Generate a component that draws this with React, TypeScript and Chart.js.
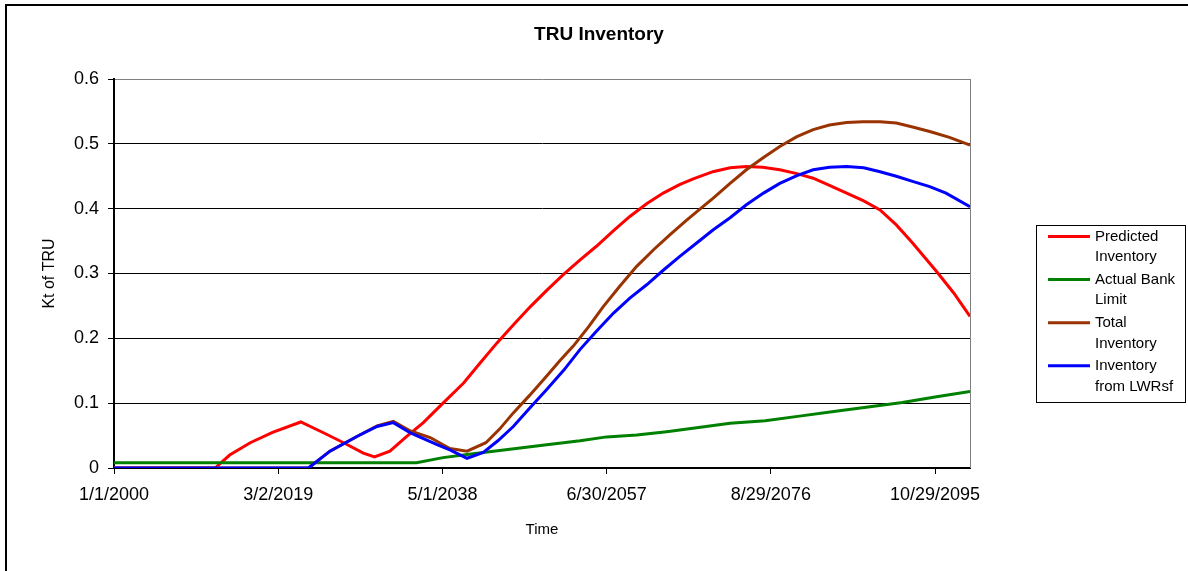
import React, { useEffect, useRef } from 'react';
import { Chart, registerables } from 'chart.js';

Chart.register(...registerables);

const FONT = "'Liberation Sans', Arial, Helvetica, sans-serif";

const chartTitle = 'TRU Inventory';
const xAxisTitle = 'Time';
const yAxisTitle = 'Kt of TRU';

const xTickLabels = ['1/1/2000', '3/2/2019', '5/1/2038', '6/30/2057', '8/29/2076', '10/29/2095'];
const xTickStepDays = 7000;
const startYear = 2000;
const daysPerYear = 365.25;
const yMax = 0.6;
const yStep = 0.1;

const seriesLabels = [
  ['Predicted', 'Inventory'],
  ['Actual Bank', 'Limit'],
  ['Total', 'Inventory'],
  ['Inventory', 'from LWRsf'],
];
const seriesColors = ['#FF0000', '#008000', '#993300', '#0000FF'];

const predictedYears = [2000, 2011.8, 2013.5, 2015.9, 2018.5, 2021.8, 2024.5, 2026.8, 2029.1, 2030.4, 2032.2, 2034.2, 2036.1, 2038.4, 2040.8, 2042.8, 2044.7, 2046.7, 2048.6, 2050.5, 2052.4, 2054.4, 2056.3, 2058.3, 2060.2, 2062.2, 2064.1, 2066.0, 2067.6, 2069.9, 2071.9, 2073.8, 2075.7, 2077.7, 2079.7, 2081.6, 2083.5, 2085.5, 2087.5, 2089.4, 2091.3, 2093.2, 2094.6, 2096.0, 2098.0, 2099.9];
const predictedValues = [0, 0, 0.020, 0.039, 0.055, 0.071, 0.054, 0.039, 0.023, 0.017, 0.026, 0.049, 0.070, 0.100, 0.131, 0.163, 0.193, 0.222, 0.249, 0.274, 0.298, 0.321, 0.342, 0.366, 0.388, 0.408, 0.424, 0.437, 0.446, 0.457, 0.463, 0.465, 0.464, 0.460, 0.454, 0.447, 0.436, 0.424, 0.412, 0.398, 0.375, 0.347, 0.325, 0.303, 0.270, 0.234];

const bankYears = [2000, 2035.3, 2038.4, 2041.9, 2046.2, 2050.5, 2054.4, 2057.5, 2061.0, 2064.5, 2068.0, 2071.9, 2076.0, 2080.0, 2084.0, 2088.0, 2092.0, 2096.0, 2099.9];
const bankValues = [0.008, 0.008, 0.016, 0.022, 0.029, 0.036, 0.042, 0.048, 0.051, 0.056, 0.062, 0.069, 0.073, 0.080, 0.087, 0.094, 0.101, 0.110, 0.118];

const totalYears = [2000, 2022.7, 2025.2, 2028.4, 2030.7, 2032.6, 2034.6, 2036.9, 2039.2, 2041.2, 2043.4, 2045.0, 2046.6, 2048.5, 2050.5, 2052.0, 2053.6, 2055.4, 2057.1, 2059.0, 2061.0, 2063.0, 2064.9, 2066.8, 2068.8, 2069.9, 2071.9, 2073.8, 2075.8, 2077.7, 2079.7, 2081.6, 2083.5, 2085.5, 2087.4, 2089.4, 2091.3, 2093.2, 2095.2, 2097.5, 2099.9];
const totalValues = [0, 0, 0.026, 0.049, 0.065, 0.072, 0.057, 0.047, 0.030, 0.026, 0.039, 0.060, 0.085, 0.112, 0.142, 0.165, 0.188, 0.218, 0.249, 0.280, 0.311, 0.337, 0.360, 0.382, 0.404, 0.416, 0.439, 0.460, 0.479, 0.496, 0.511, 0.522, 0.529, 0.533, 0.534, 0.534, 0.532, 0.526, 0.519, 0.510, 0.498];

const lwrYears = [2000, 2022.7, 2025.2, 2028.4, 2030.7, 2032.6, 2034.6, 2037.7, 2039.2, 2041.2, 2043.1, 2044.8, 2046.6, 2048.5, 2050.5, 2052.5, 2054.4, 2056.3, 2058.3, 2060.2, 2062.2, 2064.1, 2066.0, 2068.0, 2069.9, 2071.9, 2073.8, 2075.8, 2077.7, 2079.7, 2081.6, 2083.5, 2085.5, 2087.5, 2089.4, 2091.3, 2093.2, 2095.2, 2097.1, 2099.9];
const lwrValues = [0, 0, 0.026, 0.049, 0.064, 0.070, 0.054, 0.036, 0.028, 0.015, 0.024, 0.042, 0.064, 0.092, 0.121, 0.151, 0.183, 0.211, 0.239, 0.262, 0.283, 0.305, 0.326, 0.347, 0.367, 0.386, 0.406, 0.424, 0.439, 0.451, 0.460, 0.464, 0.465, 0.463, 0.457, 0.450, 0.442, 0.434, 0.424, 0.403];

const toDays = (year: number) => (year - startYear) * daysPerYear;
const toPoints = (years: number[], values: number[]) =>
  years.map((yr, i) => ({ x: toDays(yr), y: values[i] }));

const seriesPoints = [
  toPoints(predictedYears, predictedValues),
  toPoints(bankYears, bankValues),
  toPoints(totalYears, totalValues),
  toPoints(lwrYears, lwrValues),
];

const xMaxDays = toDays(predictedYears[predictedYears.length - 1]);

const decorPlugin = {
  id: 'decor',
  beforeDraw(chart: any) {
    const ctx = chart.ctx;
    ctx.save();
    ctx.fillStyle = '#FFFFFF';
    ctx.fillRect(0, 0, chart.width, chart.height);
    ctx.restore();
  },
  afterDraw(chart: any) {
    const ctx = chart.ctx;
    const { left, right, top, bottom } = chart.chartArea;
    ctx.save();
    // outer frame
    ctx.strokeStyle = '#000000';
    ctx.lineWidth = 2;
    ctx.strokeRect(6, 5, chart.width + 10, chart.height + 10);
    // plot right border
    ctx.strokeStyle = '#808080';
    ctx.lineWidth = 1;
    ctx.beginPath();
    ctx.moveTo(right + 0.5, top);
    ctx.lineTo(right + 0.5, bottom);
    ctx.stroke();
    // title
    ctx.fillStyle = '#000000';
    ctx.textAlign = 'center';
    ctx.textBaseline = 'alphabetic';
    ctx.font = `bold 19px ${FONT}`;
    ctx.fillText(chartTitle, 599, 40);
    // x axis title
    ctx.font = `15px ${FONT}`;
    ctx.fillText(xAxisTitle, (left + right) / 2, 534);
    // y axis title
    ctx.save();
    ctx.translate(53.5, (top + bottom) / 2);
    ctx.rotate(-Math.PI / 2);
    ctx.font = `16px ${FONT}`;
    ctx.fillText(yAxisTitle, 0, 0);
    ctx.restore();
    // legend
    ctx.strokeStyle = '#000000';
    ctx.lineWidth = 1;
    ctx.strokeRect(1036.5, 225.5, 149, 177);
    ctx.font = `15px ${FONT}`;
    ctx.textAlign = 'left';
    ctx.textBaseline = 'middle';
    seriesLabels.forEach((lines, i) => {
      const y = 236.5 + i * 43.1;
      ctx.strokeStyle = seriesColors[i];
      ctx.lineWidth = 3;
      ctx.beginPath();
      ctx.moveTo(1048, y);
      ctx.lineTo(1090, y);
      ctx.stroke();
      ctx.fillStyle = '#000000';
      lines.forEach((t, j) => ctx.fillText(t, 1095, y + j * 20.7));
    });
    ctx.restore();
  },
};

export default function App() {
  const canvasRef = useRef<HTMLCanvasElement | null>(null);

  useEffect(() => {
    if (!canvasRef.current) return;
    const chart = new Chart(canvasRef.current, {
      type: 'line',
      data: {
        datasets: seriesPoints.map((pts, i) => ({
          label: seriesLabels[i].join(' '),
          data: pts,
          borderColor: seriesColors[i],
          backgroundColor: seriesColors[i],
          borderWidth: 3,
          pointRadius: 0,
          tension: 0,
          fill: false,
          order: 4 - i,
        })),
      },
      options: {
        responsive: false,
        animation: false,
        layout: { padding: { top: 79, left: 0, right: 218, bottom: 0 } },
        plugins: {
          legend: { display: false },
          title: { display: false },
          tooltip: { enabled: false },
        },
        scales: {
          x: {
            type: 'linear',
            min: 0,
            max: xMaxDays,
            afterFit: (scale: any) => {
              scale.height = 103;
            },
            afterBuildTicks: (scale: any) => {
              scale.ticks = xTickLabels.map((_, i) => ({ value: i * xTickStepDays }));
            },
            ticks: {
              autoSkip: false,
              maxRotation: 0,
              minRotation: 0,
              padding: 10,
              color: '#000000',
              font: { family: FONT, size: 18 },
              callback: (_v: any, index: number) => xTickLabels[index],
            },
            grid: {
              display: true,
              drawOnChartArea: false,
              drawTicks: true,
              tickLength: 6,
              tickColor: '#000000',
              color: '#000000',
            },
            border: { display: true, color: '#000000', width: 2 },
          },
          y: {
            type: 'linear',
            min: 0,
            max: yMax,
            afterFit: (scale: any) => {
              scale.width = 114;
            },
            ticks: {
              stepSize: yStep,
              padding: 9,
              color: '#000000',
              font: { family: FONT, size: 18 },
              callback: (v: any) => (Number(v) === 0 ? '0' : Number(v).toFixed(1)),
            },
            grid: {
              display: true,
              drawOnChartArea: true,
              drawTicks: true,
              tickLength: 6,
              tickColor: '#000000',
              lineWidth: 1,
              color: (c: any) => (c.tick && Math.abs(c.tick.value - yMax) < 1e-9 ? '#808080' : '#000000'),
            },
            border: { display: true, color: '#000000', width: 2 },
          },
        },
      },
      plugins: [decorPlugin],
    });
    return () => chart.destroy();
  }, []);

  return (
    <div style={{ position: 'fixed', left: 0, top: 0, width: 1188, height: 571, background: '#fff' }}>
      <canvas ref={canvasRef} width={1188} height={571} style={{ display: 'block' }} />
    </div>
  );
}
